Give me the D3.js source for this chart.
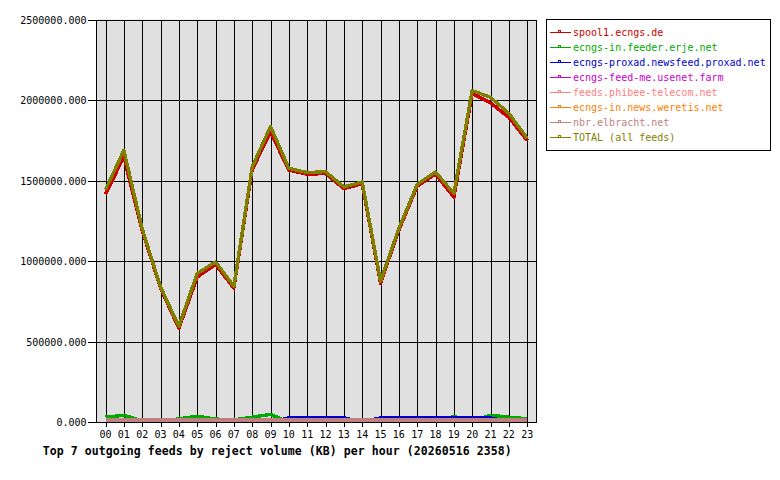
<!DOCTYPE html>
<html><head><meta charset="utf-8">
<script src="https://cdn.jsdelivr.net/npm/d3@7"></script>
<style>body{margin:0;background:#fff}svg{display:block}</style>
</head><body><svg id="c" width="780" height="480"></svg>
<script>
const hours = ["00","01","02","03","04","05","06","07","08","09","10","11","12","13","14","15","16","17","18","19","20","21","22","23"];
const feedNames = ["spool1.ecngs.de","ecngs-in.feeder.erje.net","ecngs-proxad.newsfeed.proxad.net","ecngs-feed-me.usenet.farm","feeds.phibee-telecom.net","ecngs-in.news.weretis.net","nbr.elbracht.net","TOTAL (all feeds)"];
const spool1 = [1414000,1648000,1190000,832000,582000,900000,978000,832000,1568000,1800000,1566000,1538000,1544000,1449000,1480000,862000,1192000,1465000,1540000,1396000,2040000,1982000,1892000,1748000];
const erje   = [30000,42000,8000,0,20000,36000,18000,14000,30000,47000,0,0,0,0,0,0,0,0,0,34000,5000,42000,30000,20000];
const proxad = [0,0,0,0,0,0,0,0,0,0,26000,26000,26000,26000,0,26000,26000,26000,26000,26000,26000,26000,0,0];
const usenetFarm = [0,0,0,0,0,0,0,0,0,0,0,0,0,0,0,0,0,0,0,0,0,0,0,0];
const phibee = [0,0,0,0,0,0,0,0,0,0,0,0,0,0,0,0,0,0,0,0,0,0,0,0];
const weretis = [0,0,0,0,0,0,0,0,0,0,0,0,0,0,0,0,0,0,0,0,0,0,0,0];
const elbracht = [12000,12000,12000,12000,12000,12000,12000,12000,12000,12000,12000,12000,12000,12000,12000,12000,12000,12000,12000,12000,12000,12000,12000,12000];
const total = [1442000,1687000,1201000,839000,595000,922000,994000,843000,1584000,1836000,1576000,1549000,1555000,1460000,1491000,875000,1203000,1476000,1553000,1420000,2059000,2016000,1917000,1762000];
const yTickValues = [0,500000,1000000,1500000,2000000,2500000];
const chartTitle = "Top 7 outgoing feeds by reject volume (KB) per hour (20260516 2358)";

const seriesValues = [spool1, erje, proxad, usenetFarm, phibee, weretis, elbracht, total];
const colors = ["#cc0000","#00aa00","#0000cc","#cc00cc","#ff8080","#ff8000","#c08080","#808000"];

const svg = d3.select("#c");
const font = "'DejaVu Sans Mono', monospace";
const L = 96.5, R = 536.5, T = 19.5, B = 422.5;
const x = d3.scalePoint().domain(hours).range([105.5, 527.2]);
const y = d3.scaleLinear().domain([0, 2500000]).range([422, 19.5]);

svg.append("rect").attr("x", L).attr("y", T).attr("width", R - L).attr("height", B - T - 0.5).attr("fill", "#e0e0e0");

const clip = svg.append("defs").append("clipPath").attr("id", "pc");
clip.append("rect").attr("x", L).attr("y", T - 4).attr("width", R - L).attr("height", B - T + 3.5);

const grid = svg.append("g").attr("shape-rendering", "crispEdges").attr("stroke", "#000");
hours.forEach(h => {
  grid.append("line").attr("x1", Math.round(x(h)) + 0.5).attr("x2", Math.round(x(h)) + 0.5)
    .attr("y1", T).attr("y2", B + 4);
});
yTickValues.forEach(v => {
  const yy = Math.round(y(v)) + 0.5;
  grid.append("line").attr("x1", 88).attr("x2", R).attr("y1", yy).attr("y2", yy);
});
grid.append("line").attr("x1", L).attr("x2", L).attr("y1", T).attr("y2", B);
grid.append("line").attr("x1", R).attr("x2", R).attr("y1", T).attr("y2", B);

svg.append("g").selectAll("text").data(yTickValues).join("text")
  .attr("x", 86.5).attr("y", d => Math.round(y(d)) + 0.5).attr("dy", "0.35em")
  .attr("text-anchor", "end").attr("font-family", font).attr("font-size", 10).attr("fill", "#000")
  .text(d => d.toFixed(3));

svg.append("g").selectAll("text").data(hours).join("text")
  .attr("x", d => x(d)).attr("y", 438)
  .attr("text-anchor", "middle").attr("font-family", font).attr("font-size", 10).attr("fill", "#000")
  .text(d => d);

const line = d3.line().x((d, i) => x(hours[i])).y(d => y(d));
const lg = svg.append("g").attr("clip-path", "url(#pc)");
seriesValues.forEach((vals, i) => {
  lg.append("path").datum(vals).attr("d", line).attr("fill", "none")
    .attr("stroke", colors[i]).attr("stroke-width", 3.4).attr("stroke-linejoin", "round")
    .attr("shape-rendering", "crispEdges");
});

svg.append("text").attr("x", 42.7).attr("y", 455).attr("font-family", font).attr("font-weight", "bold")
  .attr("font-size", 11.5).attr("textLength", 469).attr("lengthAdjust", "spacing").attr("fill", "#000")
  .text(chartTitle);

const leg = svg.append("g");
leg.append("rect").attr("x", 546.5).attr("y", 19.5).attr("width", 224).attr("height", 131)
  .attr("fill", "#fff").attr("stroke", "#000").attr("shape-rendering", "crispEdges");
feedNames.forEach((n, i) => {
  const yy = 32.5 + i * 15;
  leg.append("line").attr("x1", 550).attr("x2", 571).attr("y1", yy).attr("y2", yy)
    .attr("stroke", colors[i]).attr("shape-rendering", "crispEdges");
  leg.append("rect").attr("x", 558.5).attr("y", yy - 2.5).attr("width", 2).attr("height", 2)
    .attr("fill", "none").attr("stroke", colors[i]).attr("shape-rendering", "crispEdges");
  leg.append("text").attr("x", 573).attr("y", yy).attr("dy", "0.35em")
    .attr("font-family", font).attr("font-size", 10).attr("fill", colors[i]).text(n);
});
</script>
</body></html>
